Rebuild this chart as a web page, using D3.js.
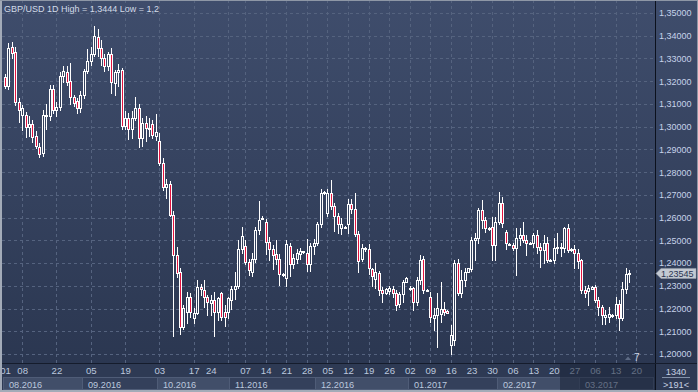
<!DOCTYPE html>
<html><head><meta charset="utf-8">
<script src="https://cdn.jsdelivr.net/npm/d3@7"></script>
<style>
html,body{margin:0;padding:0;background:#2e3a55;overflow:hidden;}
svg{display:block;}
text{font-family:"Liberation Sans",Arial,sans-serif;}
</style></head><body>
<svg id="c" width="698" height="392"></svg>
<script>
const titleText = "GBP/USD 1D High = 1,3444 Low = 1,2";
const lastPrice = 1.23545;
const barCountText = "1340";
const rangeText = ">191<";
const markerText = "7";

const dates = [
"2016-08-01","2016-08-02","2016-08-03","2016-08-04","2016-08-05","2016-08-08","2016-08-09","2016-08-10","2016-08-11","2016-08-12",
"2016-08-15","2016-08-16","2016-08-17","2016-08-18","2016-08-19","2016-08-22","2016-08-23","2016-08-24","2016-08-25","2016-08-26",
"2016-08-29","2016-08-30","2016-08-31","2016-09-01","2016-09-02","2016-09-05","2016-09-06","2016-09-07","2016-09-08","2016-09-09",
"2016-09-12","2016-09-13","2016-09-14","2016-09-15","2016-09-16","2016-09-19","2016-09-20","2016-09-21","2016-09-22","2016-09-23",
"2016-09-26","2016-09-27","2016-09-28","2016-09-29","2016-09-30","2016-10-03","2016-10-04","2016-10-05","2016-10-06","2016-10-07",
"2016-10-10","2016-10-11","2016-10-12","2016-10-13","2016-10-14","2016-10-17","2016-10-18","2016-10-19","2016-10-20","2016-10-21",
"2016-10-24","2016-10-25","2016-10-26","2016-10-27","2016-10-28","2016-10-31","2016-11-01","2016-11-02","2016-11-03","2016-11-04",
"2016-11-07","2016-11-08","2016-11-09","2016-11-10","2016-11-11","2016-11-13","2016-11-14","2016-11-15","2016-11-16","2016-11-17",
"2016-11-18","2016-11-20","2016-11-21","2016-11-22","2016-11-23","2016-11-24","2016-11-25","2016-11-27","2016-11-28","2016-11-29",
"2016-11-30","2016-12-01","2016-12-02","2016-12-04","2016-12-05","2016-12-06","2016-12-07","2016-12-08","2016-12-09","2016-12-11",
"2016-12-12","2016-12-13","2016-12-14","2016-12-15","2016-12-16","2016-12-18","2016-12-19","2016-12-20","2016-12-21","2016-12-22",
"2016-12-23","2016-12-25","2016-12-26","2016-12-27","2016-12-28","2016-12-29","2016-12-30","2017-01-01","2017-01-02","2017-01-03",
"2017-01-04","2017-01-05","2017-01-06","2017-01-08","2017-01-09","2017-01-10","2017-01-11","2017-01-12","2017-01-13","2017-01-15",
"2017-01-16","2017-01-17","2017-01-18","2017-01-19","2017-01-20","2017-01-22","2017-01-23","2017-01-24","2017-01-25","2017-01-26",
"2017-01-27","2017-01-29","2017-01-30","2017-01-31","2017-02-01","2017-02-02","2017-02-03","2017-02-05","2017-02-06","2017-02-07",
"2017-02-08","2017-02-09","2017-02-10","2017-02-12","2017-02-13","2017-02-14","2017-02-15","2017-02-16","2017-02-17","2017-02-19",
"2017-02-20","2017-02-21","2017-02-22","2017-02-23","2017-02-24","2017-02-26","2017-02-27","2017-02-28","2017-03-01","2017-03-02",
"2017-03-03","2017-03-05","2017-03-06","2017-03-07","2017-03-08","2017-03-09","2017-03-10","2017-03-12","2017-03-13","2017-03-14",
"2017-03-15","2017-03-16","2017-03-17"];
const futureDates = ["2017-03-19","2017-03-20"];

const opens = [
1.3220,1.3180,1.3350,1.3330,1.3110,1.3050,1.3051,1.2998,1.3012,1.2959,
1.2910,1.2882,1.3050,1.3045,1.3165,1.3075,1.3085,1.3225,1.3240,1.3200,
1.3130,1.3115,1.3080,1.3140,1.3245,1.3290,1.3320,1.3395,1.3346,1.3302,
1.3265,1.3320,1.3192,1.3240,1.3249,1.3005,1.3040,1.2990,1.3040,1.3080,
1.2950,1.3015,1.2995,1.3010,1.2960,1.2937,1.2840,1.2735,1.2747,1.2611,
1.2435,1.2362,1.2117,1.2186,1.2252,1.2157,1.2179,1.2296,1.2281,1.2252,
1.2223,1.2237,1.2186,1.2267,1.2186,1.2186,1.2237,1.2288,1.2298,1.2460,
1.2475,1.2406,1.2360,1.2420,1.2545,1.2598,1.2582,1.2494,1.2460,1.2442,
1.2420,1.2350,1.2335,1.2476,1.2395,1.2420,1.2440,1.2450,1.2446,1.2395,
1.2476,1.2490,1.2571,1.2710,1.2620,1.2710,1.2651,1.2607,1.2556,1.2560,
1.2571,1.2659,1.2637,1.2527,1.2420,1.2465,1.2460,1.2373,1.2330,1.2355,
1.2283,1.2270,1.2275,1.2285,1.2270,1.2220,1.2262,1.2318,1.2290,1.2289,
1.2230,1.2325,1.2420,1.2278,1.2252,1.2160,1.2171,1.2175,1.2200,1.2190,
1.2040,1.2060,1.2399,1.2267,1.2325,1.2362,1.2372,1.2501,1.2509,1.2633,
1.2589,1.2553,1.2560,1.2479,1.2582,1.2663,1.2538,1.2485,1.2479,1.2465,
1.2509,1.2523,1.2501,1.2487,1.2487,1.2523,1.2472,1.2458,1.2487,1.2413,
1.2413,1.2465,1.2472,1.2465,1.2553,1.2458,1.2462,1.2443,1.2413,1.2280,
1.2275,1.2288,1.2296,1.2237,1.2208,1.2164,1.2164,1.2171,1.2171,1.2222,
1.2160,1.2288,1.2350];
const highs = [
1.3232,1.3370,1.3374,1.3350,1.3125,1.3095,1.3065,1.3045,1.3030,1.2980,
1.2930,1.3075,1.3100,1.3185,1.3185,1.3110,1.3240,1.3265,1.3265,1.3280,
1.3140,1.3125,1.3155,1.3255,1.3340,1.3350,1.3444,1.3430,1.3380,1.3320,
1.3330,1.3345,1.3250,1.3275,1.3260,1.3070,1.3060,1.3070,1.3130,1.3100,
1.3040,1.3045,1.3040,1.3030,1.3055,1.2970,1.2860,1.2770,1.2760,1.2630,
1.2470,1.2380,1.2215,1.2274,1.2267,1.2201,1.2325,1.2310,1.2325,1.2259,
1.2259,1.2274,1.2250,1.2274,1.2215,1.2252,1.2300,1.2360,1.2500,1.2560,
1.2500,1.2420,1.2445,1.2560,1.2674,1.2608,1.2595,1.2515,1.2479,1.2501,
1.2440,1.2358,1.2500,1.2490,1.2438,1.2460,1.2465,1.2455,1.2505,1.2490,
1.2505,1.2580,1.2725,1.2715,1.2725,1.2765,1.2666,1.2622,1.2600,1.2565,
1.2681,1.2681,1.2710,1.2540,1.2483,1.2470,1.2483,1.2380,1.2400,1.2365,
1.2296,1.2290,1.2300,1.2300,1.2280,1.2274,1.2325,1.2340,1.2300,1.2296,
1.2340,1.2435,1.2430,1.2285,1.2274,1.2201,1.2267,1.2318,1.2230,1.2195,
1.2127,1.2415,1.2420,1.2370,1.2377,1.2380,1.2516,1.2531,1.2641,1.2677,
1.2604,1.2560,1.2604,1.2604,1.2714,1.2690,1.2545,1.2490,1.2490,1.2553,
1.2553,1.2582,1.2523,1.2492,1.2531,1.2545,1.2487,1.2523,1.2516,1.2416,
1.2509,1.2531,1.2490,1.2560,1.2570,1.2465,1.2480,1.2460,1.2420,1.2300,
1.2303,1.2298,1.2303,1.2252,1.2215,1.2193,1.2208,1.2178,1.2252,1.2237,
1.2318,1.2380,1.2369];
const lows = [
1.3168,1.3165,1.3300,1.3095,1.3022,1.2985,1.2955,1.2960,1.2932,1.2905,
1.2866,1.2870,1.2990,1.3030,1.3060,1.3045,1.3075,1.3195,1.3185,1.3100,
1.3090,1.3060,1.3065,1.3125,1.3235,1.3270,1.3310,1.3310,1.3270,1.3245,
1.3250,1.3150,1.3140,1.3180,1.2990,1.2990,1.2945,1.2950,1.3030,1.2910,
1.2915,1.2935,1.2960,1.2950,1.2940,1.2830,1.2720,1.2686,1.2605,1.2080,
1.2340,1.2087,1.2110,1.2135,1.2164,1.2135,1.2176,1.2260,1.2208,1.2171,
1.2171,1.2079,1.2149,1.2149,1.2125,1.2160,1.2200,1.2240,1.2290,1.2445,
1.2395,1.2347,1.2345,1.2405,1.2530,1.2592,1.2442,1.2413,1.2376,1.2398,
1.2303,1.2345,1.2300,1.2343,1.2380,1.2400,1.2420,1.2446,1.2366,1.2366,
1.2440,1.2480,1.2560,1.2705,1.2607,1.2640,1.2541,1.2534,1.2527,1.2556,
1.2534,1.2620,1.2520,1.2359,1.2409,1.2455,1.2351,1.2300,1.2292,1.2260,
1.2230,1.2265,1.2265,1.2250,1.2193,1.2208,1.2230,1.2315,1.2280,1.2193,
1.2216,1.2310,1.2270,1.2275,1.2142,1.2105,1.2032,1.2142,1.2171,1.2180,
1.2000,1.2040,1.2259,1.2252,1.2300,1.2360,1.2365,1.2413,1.2487,1.2553,
1.2538,1.2545,1.2413,1.2413,1.2570,1.2560,1.2460,1.2478,1.2458,1.2347,
1.2479,1.2494,1.2435,1.2484,1.2472,1.2443,1.2384,1.2399,1.2406,1.2408,
1.2400,1.2443,1.2430,1.2450,1.2450,1.2455,1.2377,1.2380,1.2270,1.2250,
1.2215,1.2285,1.2230,1.2171,1.2134,1.2134,1.2140,1.2164,1.2160,1.2105,
1.2150,1.2270,1.2318];
const closes = [
1.3178,1.3345,1.3325,1.3110,1.3073,1.3080,1.2998,1.3010,1.2955,1.2915,
1.2880,1.3050,1.3045,1.3165,1.3075,1.3085,1.3225,1.3245,1.3195,1.3130,
1.3105,1.3080,1.3140,1.3245,1.3290,1.3320,1.3400,1.3345,1.3302,1.3265,
1.3320,1.3196,1.3240,1.3249,1.3005,1.3040,1.2990,1.3040,1.3080,1.2950,
1.3015,1.2995,1.2990,1.2965,1.2975,1.2842,1.2735,1.2750,1.2611,1.2435,
1.2355,1.2117,1.2201,1.2252,1.2186,1.2181,1.2296,1.2284,1.2252,1.2230,
1.2237,1.2186,1.2245,1.2164,1.2164,1.2245,1.2288,1.2300,1.2460,1.2519,
1.2406,1.2369,1.2420,1.2545,1.2589,1.2600,1.2494,1.2460,1.2435,1.2420,
1.2354,1.2354,1.2483,1.2395,1.2424,1.2446,1.2453,1.2453,1.2395,1.2476,
1.2490,1.2571,1.2710,1.2712,1.2710,1.2651,1.2607,1.2571,1.2571,1.2560,
1.2659,1.2637,1.2527,1.2409,1.2468,1.2460,1.2380,1.2343,1.2362,1.2281,
1.2268,1.2285,1.2290,1.2268,1.2216,1.2262,1.2318,1.2333,1.2288,1.2230,
1.2325,1.2413,1.2281,1.2283,1.2164,1.2171,1.2201,1.2200,1.2186,1.2182,
1.2083,1.2399,1.2267,1.2325,1.2362,1.2377,1.2501,1.2509,1.2633,1.2589,
1.2553,1.2555,1.2479,1.2582,1.2663,1.2575,1.2487,1.2480,1.2465,1.2509,
1.2523,1.2501,1.2487,1.2490,1.2523,1.2472,1.2458,1.2487,1.2413,1.2410,
1.2465,1.2472,1.2465,1.2553,1.2458,1.2462,1.2443,1.2410,1.2281,1.2270,
1.2290,1.2296,1.2237,1.2208,1.2171,1.2171,1.2178,1.2171,1.2222,1.2160,
1.2288,1.2354,1.23545];

const priceTicks = [1.20,1.21,1.22,1.23,1.24,1.25,1.26,1.27,1.28,1.29,1.30,1.31,1.32,1.33,1.34,1.35];
const dayTickDates = ["2016-08-01","2016-08-08","2016-08-22","2016-09-05","2016-09-19","2016-10-03","2016-10-17","2016-10-24",
"2016-11-07","2016-11-14","2016-11-21","2016-11-28","2016-12-05","2016-12-12","2016-12-19","2016-12-26",
"2017-01-02","2017-01-09","2017-01-16","2017-01-23","2017-01-30","2017-02-06","2017-02-13","2017-02-20",
"2017-02-27","2017-03-06","2017-03-13","2017-03-20"];
const gridDates = ["2016-08-08","2016-08-22","2016-09-05","2016-09-19","2016-10-03","2016-10-17","2016-10-31",
"2016-11-07","2016-11-14","2016-11-21","2016-11-28","2016-12-05","2016-12-12","2016-12-19","2016-12-26",
"2017-01-02","2017-01-09","2017-01-16","2017-01-23","2017-01-30","2017-02-06","2017-02-13","2017-02-20",
"2017-02-27","2017-03-06","2017-03-13","2017-03-20"];
const monthLabels = ["08.2016","09.2016","10.2016","11.2016","12.2016","01.2017","02.2017","03.2017"];
const monthStarts = ["2016-08-01","2016-09-01","2016-10-03","2016-11-01","2016-12-01","2017-01-02","2017-02-01","2017-03-01"];

// ---------- layout ----------
const W = 698, H = 392;
const plotR = 655, plotB = 363;
const svg = d3.select("#c");

const allDates = dates.concat(futureDates);
const x = d3.scalePoint().domain(allDates).range([5, 5 + (allDates.length - 1) * 3.43]);
const y = d3.scaleLinear().domain([1.20, 1.35]).range([354, 13]);
const px = d => Math.round(x(d));
const py = v => Math.round(y(v));

const defs = svg.append("defs");
const g1 = defs.append("linearGradient").attr("id","bg").attr("gradientUnits","userSpaceOnUse")
  .attr("x1",0).attr("y1",0).attr("x2",0).attr("y2",plotB);
g1.append("stop").attr("offset","0").attr("stop-color","#3f4d6c");
g1.append("stop").attr("offset","1").attr("stop-color","#2b3751");
defs.append("clipPath").attr("id","plotclip").append("rect").attr("x",0).attr("y",0).attr("width",plotR).attr("height",plotB);

svg.append("rect").attr("x",0).attr("y",0).attr("width",W).attr("height",plotB).attr("fill","url(#bg)");
svg.append("rect").attr("x",0).attr("y",plotB).attr("width",W).attr("height",H-plotB).attr("fill","#2e3a54");

// grid
const grid = svg.append("g").attr("clip-path","url(#plotclip)");
grid.selectAll("line.h").data(priceTicks).join("line").attr("class","h")
  .attr("x1",2).attr("x2",plotR).attr("y1",d=>py(d)+0.5).attr("y2",d=>py(d)+0.5)
  .attr("stroke","#55637f").attr("stroke-dasharray","3,3");
grid.selectAll("line.v").data(gridDates).join("line").attr("class","v")
  .attr("x1",d=>px(d)+0.5).attr("x2",d=>px(d)+0.5).attr("y1",0).attr("y2",plotB)
  .attr("stroke","#55637f").attr("stroke-dasharray","3,3");

// candles
const bars = dates.map((d,i)=>({d, o:opens[i], h:highs[i], l:lows[i], c:closes[i]}));
const cg = svg.append("g").attr("clip-path","url(#plotclip)");
cg.selectAll("line.w").data(bars).join("line").attr("class","w")
  .attr("x1",b=>px(b.d)+0.5).attr("x2",b=>px(b.d)+0.5)
  .attr("y1",b=>py(b.h)).attr("y2",b=>py(b.l)+1)
  .attr("stroke","#ffffff").attr("stroke-width",1);
cg.selectAll("rect.b").data(bars).join("rect").attr("class","b")
  .attr("x",b=>px(b.d)-0.5).attr("width",2)
  .attr("y",b=>py(Math.max(b.o,b.c))+0.5)
  .attr("height",b=>Math.max(1, py(Math.min(b.o,b.c)) - py(Math.max(b.o,b.c))))
  .attr("fill",b=>b.c < b.o ? "#e3133f" : "#34415d")
  .attr("stroke","#ffffff").attr("stroke-width",1);

// separators
svg.append("line").attr("x1",plotR+0.5).attr("x2",plotR+0.5).attr("y1",0).attr("y2",H).attr("stroke","#0c111d");
svg.append("line").attr("x1",0).attr("x2",W).attr("y1",plotB+0.5).attr("y2",plotB+0.5).attr("stroke","#151c2c");

// right price axis
const fmt = v => v.toFixed(5).replace(".", ",");
const ra = svg.append("g").attr("transform",`translate(${plotR},0)`)
  .call(d3.axisRight(y).tickValues(priceTicks).tickFormat(fmt).tickSize(0).tickPadding(4));
ra.select(".domain").remove();
ra.selectAll("text").attr("fill","#c6d3ea").attr("font-size","9px").attr("font-family","Liberation Sans, Arial, sans-serif");

// month boxes
const monthEnds = monthStarts.slice(1).map(d=>px(d)-1).concat([plotR-1]);
const mg = svg.append("g");
monthStarts.forEach((d,i)=>{
  const x0 = px(d)-2;
  mg.append("rect").attr("x",x0+0.5).attr("y",377.5).attr("width",monthEnds[i]-x0-1).attr("height",12)
    .attr("fill", i%2===0 ? "#414e69" : "#34405b").attr("stroke","#4f5c77");
  mg.append("text").attr("x",x0+6).attr("y",387.5).text(monthLabels[i])
    .attr("fill","#bcc8de").attr("font-size","9.2px");
});

// day axis
const da = svg.append("g").attr("transform",`translate(0,${plotB})`)
  .call(d3.axisBottom(x).tickValues(dayTickDates).tickFormat(d=>d.slice(8,10)).tickSize(0).tickPadding(4));
da.select(".domain").remove();
da.selectAll("text").attr("fill","#bcc8de").attr("font-size","9.6px").attr("font-family","Liberation Sans, Arial, sans-serif");

// dimmed range on the time axis
svg.append("rect").attr("x",560).attr("y",plotB+1).attr("width",plotR-560).attr("height",H-plotB-3)
  .attr("fill","#1c2438").attr("opacity",0.55);

// last price tag
const ly = y(lastPrice);
svg.append("path").attr("d",`M${plotR+1},${ly} L${plotR+6},${ly-5} L696,${ly-5} L696,${ly+5} L${plotR+6},${ly+5} Z`)
  .attr("fill","#c3c9d2").attr("stroke","#9aa2ae").attr("stroke-width",0.5);
svg.append("text").attr("x",plotR+6).attr("y",ly+3.2).text(fmt(lastPrice))
  .attr("fill","#2a3450").attr("font-size","9px");

// bottom marker
svg.append("path").attr("d","M625,360 L628,356.5 L631,360 Z").attr("fill","#5d6a84");
svg.append("text").attr("x",634).attr("y",361).text(markerText).attr("fill","#d0d8e6").attr("font-size","10px");

// corner info
svg.append("text").attr("x",676).attr("y",375).attr("text-anchor","middle").text(barCountText)
  .attr("fill","#c6d0e2").attr("font-size","9.2px");
svg.append("line").attr("x1",662).attr("x2",690).attr("y1",377.5).attr("y2",377.5).attr("stroke","#8290a8");
svg.append("text").attr("x",676).attr("y",387.5).attr("text-anchor","middle").text(rangeText)
  .attr("fill","#c6d0e2").attr("font-size","9.2px");

// title
svg.append("text").attr("x",4).attr("y",11.5).text(titleText).attr("fill","#d3dbe8").attr("font-size","9px");

// frame
svg.append("rect").attr("x",0).attr("y",0).attr("width",2).attr("height",H).attr("fill","#a3abb8");
svg.append("rect").attr("x",0).attr("y",H-2).attr("width",W).attr("height",2).attr("fill","#a3abb8");
svg.append("rect").attr("x",0).attr("y",0).attr("width",W).attr("height",1).attr("fill","#8e97a6");
svg.append("rect").attr("x",W-1).attr("y",0).attr("width",1).attr("height",H).attr("fill","#8e97a6");
</script>
</body></html>
